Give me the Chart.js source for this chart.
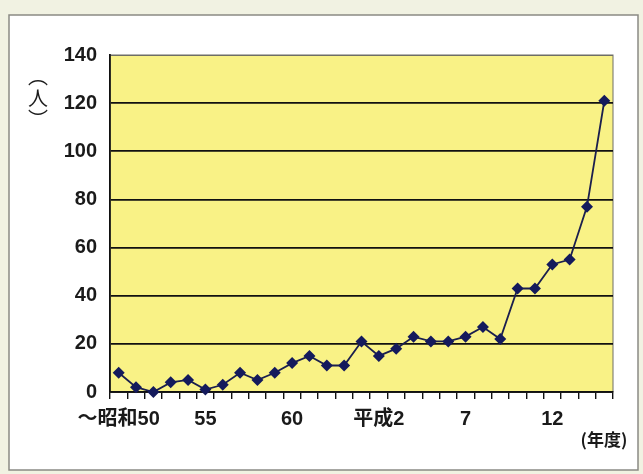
<!DOCTYPE html>
<html lang="ja">
<head>
<meta charset="utf-8">
<script src="https://cdn.jsdelivr.net/npm/chart.js@4/dist/chart.umd.min.js"></script>
<style>
  html, body { margin: 0; padding: 0; background: #f1f2e2; }
  #wrap { position: relative; width: 643px; height: 474px; }
</style>
</head>
<body>
<div id="wrap"><canvas id="chart" width="643" height="474"></canvas></div>
<script>
// 年度別の人数（昭和50年度以前 〜 平成15年度）
const years = ['～昭和50', '51', '52', '53', '54', '55', '56', '57', '58', '59',
  '60', '61', '62', '63', '平成元', '2', '3', '4', '5', '6',
  '7', '8', '9', '10', '11', '12', '13', '14', '15'];
const tickLabels = ['～昭和50', '', '', '', '', '55', '', '', '', '',
  '60', '', '', '', '', '平成2', '', '', '', '',
  '7', '', '', '', '', '12', '', '', ''];
const counts = [8, 2, 0, 4, 5, 1, 3, 8, 5, 8,
  12, 15, 11, 11, 21, 15, 18, 23, 21, 21,
  23, 27, 22, 43, 43, 53, 55, 77, 121];
const yTicks = [0, 20, 40, 60, 80, 100, 120, 140];

const FONT = '"Liberation Sans", "Noto Sans CJK JP", sans-serif';

// panel, yellow plot area and the unit labels
const decor = {
  id: 'decor',
  beforeDraw(chart) {
    const { ctx, chartArea: a } = chart;
    ctx.save();
    ctx.fillStyle = '#ffffff';
    ctx.fillRect(9, 15, 629, 455);
    ctx.strokeStyle = '#8a8a84';
    ctx.lineWidth = 1.5;
    ctx.strokeRect(9, 15, 629, 455);
    ctx.fillStyle = '#f9f286';
    ctx.fillRect(a.left, a.top, a.right - a.left, a.bottom - a.top);
    ctx.strokeStyle = '#6e6e66';
    ctx.lineWidth = 1;
    ctx.strokeRect(a.left, a.top, a.right - a.left, a.bottom - a.top);
    ctx.restore();
  },
  afterDraw(chart) {
    const { ctx } = chart;
    ctx.save();
    ctx.fillStyle = '#1a1a1a';
    ctx.font = '20px "Noto Sans CJK JP", sans-serif';
    ctx.textAlign = 'center';
    ctx.textBaseline = 'middle';
    ctx.fillText('︵', 38, 76);
    ctx.fillText('人', 38, 98);
    ctx.fillText('︶', 38, 119);
    ctx.font = 'bold 17px "Noto Sans CJK JP", sans-serif';
    ctx.fillText('(年度)', 604, 440);
    ctx.restore();
  }
};

new Chart(document.getElementById('chart'), {
  type: 'line',
  data: {
    labels: years,
    datasets: [{
      data: counts,
      borderColor: '#1b1f4e',
      borderWidth: 1.8,
      backgroundColor: '#141a5c',
      pointStyle: 'rectRot',
      pointRadius: 6,
      pointBorderWidth: 0,
      tension: 0,
      clip: false,
    }],
  },
  options: {
    responsive: false,
    animation: false,
    layout: { padding: { left: 0, right: 30, top: 55, bottom: 40 } },
    plugins: { legend: { display: false }, tooltip: { enabled: false } },
    scales: {
      x: {
        offset: true,
        grid: { offset: true, drawOnChartArea: false, drawTicks: true, tickLength: 7, color: '#111', lineWidth: 1.4 },
        border: { color: '#111', width: 1.8 },
        ticks: {
          autoSkip: false,
          maxRotation: 0,
          padding: 8,
          color: '#1a1a1a',
          font: { family: FONT, size: 20, weight: 'bold' },
          callback: (v, i) => tickLabels[i],
        },
        afterFit: (s) => { s.height = 42; },
      },
      y: {
        min: 0,
        max: 140,
        afterBuildTicks: (s) => { s.ticks = yTicks.map(v => ({ value: v })); },
        grid: {
          drawTicks: false,
          color: (c) => (c.tick && c.tick.value === 140 ? '#6e6e66' : '#111'),
          lineWidth: (c) => (c.tick && c.tick.value === 140 ? 1 : 1.8),
        },
        border: { color: '#111', width: 1.8 },
        ticks: {
          padding: 13,
          color: '#1a1a1a',
          font: { family: FONT, size: 20, weight: 'bold' },
        },
        afterFit: (s) => { s.width = 110; },
      },
    },
  },
  plugins: [decor],
});
</script>
</body>
</html>
